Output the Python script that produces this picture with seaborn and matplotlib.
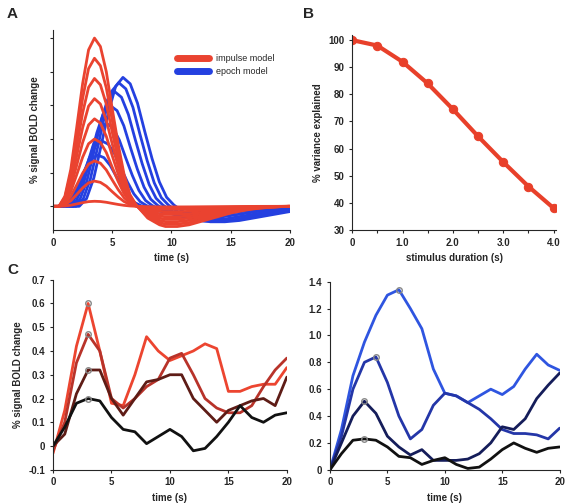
import numpy as np
import matplotlib
matplotlib.use("Agg")
import matplotlib.pyplot as plt
import seaborn as sns

# panel A: canonical response shape sampled every 0.5 s, plus amplitudes / delays
t_shape = np.arange(0, 20.5, 0.5)
hrf_shape = [0, 0, 0.06, 0.22, 0.47, 0.73, 0.93, 1.0, 0.95, 0.8, 0.58, 0.37, 0.19, 0.07,
             0.01, -0.03, -0.07, -0.09, -0.11, -0.12, -0.12, -0.12, -0.115, -0.11, -0.1,
             -0.09, -0.08, -0.07, -0.06, -0.05, -0.04, -0.033, -0.026, -0.02, -0.015,
             -0.011, -0.008, -0.005, -0.003, -0.001, 0]
impulse_amps = [1.0, 0.88, 0.76, 0.64, 0.52, 0.40, 0.27, 0.15, 0.03]
epoch_amps = [0.29, 0.37, 0.47, 0.57, 0.65, 0.70, 0.73]
epoch_delays = [0.1, 0.35, 0.6, 0.85, 1.1, 1.35, 1.6]
epoch_stretch = [1.05, 1.08, 1.11, 1.14, 1.17, 1.2, 1.23]

# panel B
duration = [0, 0.5, 1.0, 1.5, 2.0, 2.5, 3.0, 3.5, 4.0]
variance = [100, 98, 92, 84, 74.5, 64.5, 55, 46, 38]

# panel C (red) and D (blue), sampled every 1 s
t_sec = list(range(21))
red_series = [
    [-0.03, 0.15, 0.42, 0.6, 0.4, 0.18, 0.17, 0.3, 0.46, 0.4, 0.36, 0.38, 0.4, 0.43, 0.41, 0.23, 0.23, 0.25, 0.26, 0.26, 0.33],
    [-0.02, 0.1, 0.35, 0.47, 0.4, 0.2, 0.16, 0.2, 0.25, 0.28, 0.37, 0.39, 0.3, 0.2, 0.16, 0.14, 0.14, 0.17, 0.25, 0.32, 0.37],
    [0, 0.05, 0.22, 0.32, 0.32, 0.2, 0.13, 0.2, 0.27, 0.28, 0.3, 0.3, 0.2, 0.15, 0.1, 0.15, 0.17, 0.19, 0.2, 0.17, 0.29],
    [0, 0.08, 0.18, 0.2, 0.19, 0.12, 0.07, 0.06, 0.01, 0.04, 0.07, 0.04, -0.02, -0.01, 0.04, 0.1, 0.17, 0.12, 0.1, 0.13, 0.14],
]
red_colors = ["#ec4530", "#b8332a", "#5e1c16", "#111111"]
red_peak_t = [3, 3, 3, 3]
blue_series = [
    [0, 0.3, 0.7, 0.95, 1.15, 1.3, 1.34, 1.2, 1.05, 0.75, 0.57, 0.55, 0.5, 0.55, 0.6, 0.56, 0.62, 0.75, 0.86, 0.78, 0.74],
    [0, 0.25, 0.6, 0.8, 0.84, 0.65, 0.4, 0.23, 0.3, 0.48, 0.57, 0.55, 0.5, 0.45, 0.38, 0.3, 0.27, 0.27, 0.26, 0.23, 0.31],
    [0, 0.2, 0.4, 0.51, 0.42, 0.25, 0.17, 0.11, 0.15, 0.07, 0.07, 0.07, 0.08, 0.12, 0.2, 0.32, 0.3, 0.38, 0.53, 0.63, 0.72],
    [0, 0.12, 0.22, 0.23, 0.22, 0.17, 0.1, 0.09, 0.04, 0.07, 0.09, 0.04, 0.01, 0.02, 0.08, 0.15, 0.2, 0.16, 0.13, 0.16, 0.17],
]
blue_colors = ["#2f55e0", "#2436a8", "#151d5a", "#111111"]
blue_peak_t = [6, 4, 3, 3]

sns.set_style("ticks")
plt.rcParams["font.family"] = ["Liberation Sans", "DejaVu Sans"]
plt.rcParams["font.weight"] = "bold"
plt.rcParams["font.size"] = 7

fig = plt.figure(figsize=(5.83, 5.03), dpi=100)
axA = fig.add_axes([0.091, 0.543, 0.406, 0.398])
axB = fig.add_axes([0.604, 0.543, 0.35, 0.388])
axC = fig.add_axes([0.091, 0.066, 0.401, 0.378])
axD = fig.add_axes([0.566, 0.066, 0.394, 0.374])

shape = np.array(hrf_shape)
for amp, d, s in zip(epoch_amps, epoch_delays, epoch_stretch):
    sns.lineplot(x=t_shape * s + d, y=shape * amp * 1.05, ax=axA, color="#2440e0", lw=2)
for amp in impulse_amps:
    sns.lineplot(x=t_shape, y=shape * amp, ax=axA, color="#ea4330", lw=2)
axA.plot([], [], color="#ea4330", lw=5, label="impulse model")
axA.plot([], [], color="#2440e0", lw=5, label="epoch model")
axA.legend(loc="upper right", bbox_to_anchor=(0.97, 0.92), frameon=False,
           handlelength=3.5, prop={"weight": "normal", "size": 6.5})
axA.set_xlim(0, 20)
axA.set_ylim(-0.14, 1.05)
axA.set_xticks([0, 5, 10, 15, 20])
axA.set_yticks(np.arange(0, 1.01, 0.2))
axA.set_yticklabels([])
axA.set_xlabel("time (s)", fontweight="bold")
axA.set_ylabel("% signal BOLD change", fontweight="bold")

sns.lineplot(x=duration, y=variance, ax=axB, color="#e8402a", lw=3, marker="o",
             markersize=6, markeredgecolor="#e8402a")
axB.set_xlim(0, 4.05)
axB.set_ylim(30, 102)
axB.set_xticks(duration)
axB.set_xticklabels(["0", "", "1.0", "", "2.0", "", "3.0", "", "4.0"])
axB.set_yticks(range(30, 101, 10))
axB.set_xlabel("stimulus duration (s)", fontweight="bold")
axB.set_ylabel("% variance explained", fontweight="bold")

for vals, c, pt in zip(red_series, red_colors, red_peak_t):
    sns.lineplot(x=t_sec, y=vals, ax=axC, color=c, lw=2)
    axC.plot(pt, vals[pt], "o", mfc="none", mec="#888888", ms=4)
axC.set_xlim(0, 20)
axC.set_ylim(-0.1, 0.7)
axC.set_xticks([0, 5, 10, 15, 20])
axC.set_yticks(np.arange(-0.1, 0.71, 0.1))
axC.set_yticklabels(["-0.1", "0", "0.1", "0.2", "0.3", "0.4", "0.5", "0.6", "0.7"])
axC.set_xlabel("time (s)", fontweight="bold")
axC.set_ylabel("% signal BOLD change", fontweight="bold")

for vals, c, pt in zip(blue_series, blue_colors, blue_peak_t):
    sns.lineplot(x=t_sec, y=vals, ax=axD, color=c, lw=2)
    axD.plot(pt, vals[pt], "o", mfc="none", mec="#888888", ms=4)
axD.set_xlim(0, 20)
axD.set_ylim(0, 1.4)
axD.set_xticks([0, 5, 10, 15, 20])
axD.set_yticks(np.arange(0, 1.41, 0.2))
axD.set_yticklabels(["0", "0.2", "0.4", "0.6", "0.8", "1.0", "1.2", "1.4"])
axD.set_xlabel("time (s)", fontweight="bold")

for ax in [axA, axB, axC, axD]:
    sns.despine(ax=ax)
    ax.tick_params(length=2, width=0.8)

fig.text(0.012, 0.965, "A", fontsize=11, fontweight="bold")
fig.text(0.52, 0.965, "B", fontsize=11, fontweight="bold")
fig.text(0.012, 0.455, "C", fontsize=11, fontweight="bold")

fig.savefig("out.png", dpi=100)
